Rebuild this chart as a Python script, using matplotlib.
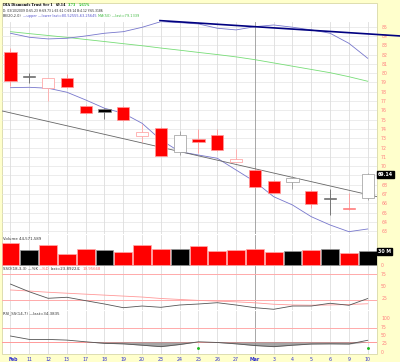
import matplotlib
matplotlib.use('Agg')
import matplotlib.pyplot as plt
from matplotlib.patches import Rectangle
import matplotlib.transforms as mtransforms
import numpy as np

# ---------------- data ----------------
dates = ['Feb', '11', '12', '13', '17', '18', '19', '20', '23', '24',
         '25', '26', '27', 'Mar', '3', '4', '5', '6', '9', '10']
prev_close0 = 82.45
opens  = [82.25, 79.62, 78.38, 79.45, 76.50, 76.15, 76.40, 73.25, 74.14, 71.50,
          72.93, 73.36, 70.48, 69.58, 68.40, 68.27, 67.36, 66.46, 65.43, 66.55]
highs  = [82.70, 80.00, 79.50, 79.90, 76.60, 76.30, 76.50, 74.54, 74.20, 73.80,
          74.00, 74.00, 71.90, 69.70, 68.50, 68.90, 67.40, 67.52, 67.10, 69.30]
lows   = [78.65, 78.90, 77.04, 78.40, 75.60, 75.04, 74.90, 72.63, 71.05, 71.20,
          71.40, 71.60, 70.40, 67.70, 67.10, 67.50, 65.47, 64.75, 65.30, 66.40]
closes = [79.20, 79.60, 79.45, 78.55, 75.75, 75.80, 74.97, 73.68, 71.10, 73.32,
          72.63, 71.74, 70.77, 67.80, 67.15, 68.70, 65.94, 66.44, 65.41, 69.14]
volumes_m = [46.5, 32.1, 42.9, 22.9, 34.3, 32.8, 28.5, 43.5, 34.3, 34.9,
             40.7, 30.0, 32.8, 34.9, 28.5, 30.0, 32.8, 34.3, 26.4, 29.4]
bb_upper = [84.29, 83.86, 83.68, 83.75, 84.00, 84.29, 84.46, 84.93, 85.54, 85.43,
            85.29, 84.83, 84.65, 85.00, 85.18, 84.94, 84.65, 84.29, 83.21, 81.60]
bb_lower = [78.44, 78.48, 78.38, 77.95, 77.12, 76.23, 75.69, 74.61, 72.82, 71.56,
            71.20, 70.85, 69.59, 68.33, 66.72, 65.83, 64.57, 63.68, 62.96, 63.25]
ma50 = [84.46, 84.25, 84.05, 83.85, 83.62, 83.40, 83.17, 82.95, 82.70, 82.47,
        82.23, 82.00, 81.75, 81.45, 81.10, 80.75, 80.40, 80.05, 79.62, 79.13]
# drawn trend lines: (day index, price) end points
trend_navy_x = [7.95, 20.72]
trend_navy_y = [85.65, 84.00]
trend_gray_x = [-0.45, 19.5]
trend_gray_y = [75.94, 66.72]
stoch_k = [54.0, 38.0, 24.4, 26.5, 19.4, 12.5, 4.8, 8.3, 5.6, 10.4,
           12.5, 15.2, 10.4, 4.8, 1.5, 8.3, 8.3, 14.0, 9.8, 23.9]
stoch_d = [41.7, 39.5, 37.0, 35.0, 33.0, 31.0, 29.0, 27.0, 24.0, 22.0,
           20.0, 18.5, 17.0, 15.0, 12.0, 10.5, 10.0, 10.5, 11.5, 13.0]
rsi = [47.0, 37.0, 37.0, 35.0, 30.0, 25.5, 24.0, 20.0, 15.7, 22.0,
       30.0, 28.0, 24.0, 19.0, 15.7, 20.0, 23.5, 24.0, 23.5, 34.4]
rsi_signal_days = [10, 19]
rsi_signal_level = [12, 12]
price_ticks = list(range(63, 86))
vol_last_label = '30 M'

# ---------------- figure ----------------
W, H = 400, 362
fig = plt.figure(figsize=(W / 100, H / 100), dpi=100)
fig.patch.set_facecolor('#FFFFCC')
fig.add_artist(Rectangle((2 / W, 1 - 354 / H), 375 / W, 351 / H, transform=fig.transFigure,
                         facecolor='white', edgecolor='#D8D8A8', lw=0.6, zorder=-5))
fig.canvas.draw()
R = fig.canvas.get_renderer()


def chain(y, parts, x=3.0, gap=2.0):
    """place text pieces one after another on a line (pixel coords)"""
    for s, kw in parts:
        t = fig.text(x / W, 1 - y / H, s, va='center', ha='left', **kw)
        bb = t.get_window_extent(renderer=R)
        x = bb.x1 + gap
    return x


def ax_at(y0, y1, x0=2, x1=377):
    a = fig.add_axes([x0 / W, 1 - y1 / H, (x1 - x0) / W, (y1 - y0) / H])
    a.set_facecolor('none')
    for s in a.spines.values():
        s.set_visible(False)
    a.set_xlim(-0.452, 19.495)
    return a


n = len(dates)
xs = np.arange(n)
closes_a = np.array(closes)
opens_a = np.array(opens)
prevs = np.concatenate([[prev_close0], closes_a[:-1]])
down = closes_a < prevs
filled = closes_a < opens_a

lab_col = '#FF7F7F'
small = 2.8


def vgrid(a):
    for i in xs:
        a.axvline(i, color='#999999' if dates[i] == 'Mar' else '#DDDDDD', lw=0.6, zorder=0)


def right_ticks(a, ticks, labels=None):
    a.set_yticks(ticks)
    if labels is not None:
        a.set_yticklabels(labels)
    a.yaxis.tick_right()
    a.tick_params(axis='y', length=0, labelsize=3.3, labelcolor=lab_col, pad=3)


# ---------- price panel ----------
ax = ax_at(22, 234)
ax.set_ylim(62.71, 85.5)
last_tick = int(round(closes[-1]))
right_ticks(ax, price_ticks, ['' if t == last_tick else str(t) for t in price_ticks])
ax.set_xticks([])
for t in price_ticks:
    ax.axhline(t, color='#E4E4E4', lw=0.5, zorder=0)
vgrid(ax)

ax.plot(xs, ma50, color='#77DD77', lw=0.6, zorder=2)
ax.plot(xs, bb_upper, color='#7777CC', lw=0.6, zorder=2)
ax.plot(xs, bb_lower, color='#7777CC', lw=0.6, zorder=2)
ax.plot(trend_gray_x, trend_gray_y, color='#666666', lw=0.6, zorder=2)
ax.plot(trend_navy_x, trend_navy_y, color='#000080', lw=1.2, zorder=2, clip_on=False)

for i in xs:
    if filled[i] and down[i]:
        fc, ec, wc = '#FF0000', '#FF9999', '#FF9999'
    elif filled[i]:
        fc, ec, wc = '#000000', '#888888', '#666666'
    elif down[i]:
        fc, ec, wc = 'white', '#FF9999', '#FFAAAA'
    else:
        fc, ec, wc = 'white', '#999999', '#999999'
    ax.vlines(i, lows[i], highs[i], color=wc, lw=0.6, zorder=3)
    h = max(abs(closes[i] - opens[i]), 0.1)
    ax.bar(i, h, bottom=min(opens[i], closes[i]), width=0.64,
           color=fc, edgecolor=ec, lw=0.5, zorder=4)

ax.text(1.003, closes[-1], f'{closes[-1]:.2f}', transform=ax.get_yaxis_transform(),
        color='white', fontsize=3.4, fontweight='bold', va='center', ha='left',
        bbox=dict(boxstyle='square,pad=0.25', fc='black', ec='black'), clip_on=False, zorder=10)

# header
serif_b = dict(family='DejaVu Serif', fontweight='bold', fontsize=2.4)
chain(5, [('DIA Diamonds Trust Ser 1', serif_b),
          (f'{closes[-1]:.2f}', serif_b),
          ('3.73', dict(serif_b, color='#22BB22')),
          ('5.65%', dict(serif_b, color='#22BB22'))], gap=2.5)
chain(10.8, [('D: 03/10/2009 O:65.23 H:69.73 L:65.61 C:69.14 B:4.12 Y:65.3186',
              dict(fontsize=2.2, color='#222222'))])
chain(16, [('BB(20,2.0)', dict(fontsize=2.5, color='#333333')),
           ('\u2014upper \u2014lower last=80.52555,63.25645', dict(fontsize=2.5, color='#5555CC')),
           ('MA(50) \u2014last=79.1339', dict(fontsize=2.5, color='#44BB44'))], gap=1.5)

# ---------- volume panel ----------
av = ax_at(235, 266)
av.set_ylim(-2.2, 64.0)
av.set_xticks([])
right_ticks(av, [0])
vgrid(av)
vcols = ['#FF0000' if d else '#000000' for d in down]
vedge = ['#FFAAAA' if d else '#999999' for d in down]
av.bar(xs, volumes_m, width=0.94, color=vcols, edgecolor=vedge, lw=0.5, zorder=3)
av.axhline(-0.8, color='#BBBBBB', lw=0.5)
av.text(1.003, volumes_m[-1], vol_last_label, transform=av.get_yaxis_transform(),
        color='white', fontsize=3.4, fontweight='bold', va='center', ha='left',
        bbox=dict(boxstyle='square,pad=0.25', fc='black', ec='black'), clip_on=False, zorder=10)
chain(238.5, [('Volume 44,571,589', dict(fontsize=small, color='#333333'))])

# ---------- stochastic panel ----------
asx = ax_at(266, 310)
asx.set_ylim(0, 91.7)
asx.set_xticks([])
right_ticks(asx, [25, 50, 75])
vgrid(asx)
asx.axhline(75, color='#FFAAAA', lw=0.7)
asx.axhline(20, color='#FFAAAA', lw=0.7)
asx.plot(xs, stoch_d, color='#FF9999', lw=0.6)
asx.plot(xs, stoch_k, color='#555555', lw=0.6)
chain(268.5, [('SSO(18,3,3) \u2014%K', dict(fontsize=small, color='#333333')),
              ('\u2014%D', dict(fontsize=small, color='#FF6666')),
              ('last=23.89224;', dict(fontsize=small, color='#333333')),
              ('19.95668', dict(fontsize=small, color='#FF6666'))], gap=1.2)

# ---------- RSI panel ----------
ar = ax_at(311, 354)
ar.set_ylim(-5.9, 120.6)
right_ticks(ar, [0, 25, 50, 75, 100])
vgrid(ar)
ar.axhline(70, color='#FFAAAA', lw=0.7)
ar.axhline(30, color='#FF9999', lw=0.7)
rsi_a = np.array(rsi)
ar.fill_between(xs, np.minimum(rsi_a, 30), 30, color='#888888', alpha=0.75, lw=0, zorder=2)
ar.plot(xs, rsi, color='#555555', lw=0.6, zorder=3)
ar.scatter(rsi_signal_days, rsi_signal_level, s=1.2, color='#22BB22', zorder=4)
chain(313.5, [('RSI_SS(14,7) \u2014last=34.3835', dict(fontsize=small, color='#333333'))])
ar.set_xticks(xs)
ar.set_xticklabels(dates)
ar.tick_params(axis='x', length=0, labelsize=3.4, labelcolor='#3333CC', pad=2)
for lbl in ar.get_xticklabels():
    if lbl.get_text() in ('Feb', 'Mar'):
        lbl.set_fontweight('bold')
    if lbl.get_text() == 'Feb':
        lbl.set_transform(lbl.get_transform() +
                          mtransforms.ScaledTranslation(3 / 100, 0, fig.dpi_scale_trans))

fig.savefig('out.png', dpi=100, facecolor=fig.get_facecolor())
